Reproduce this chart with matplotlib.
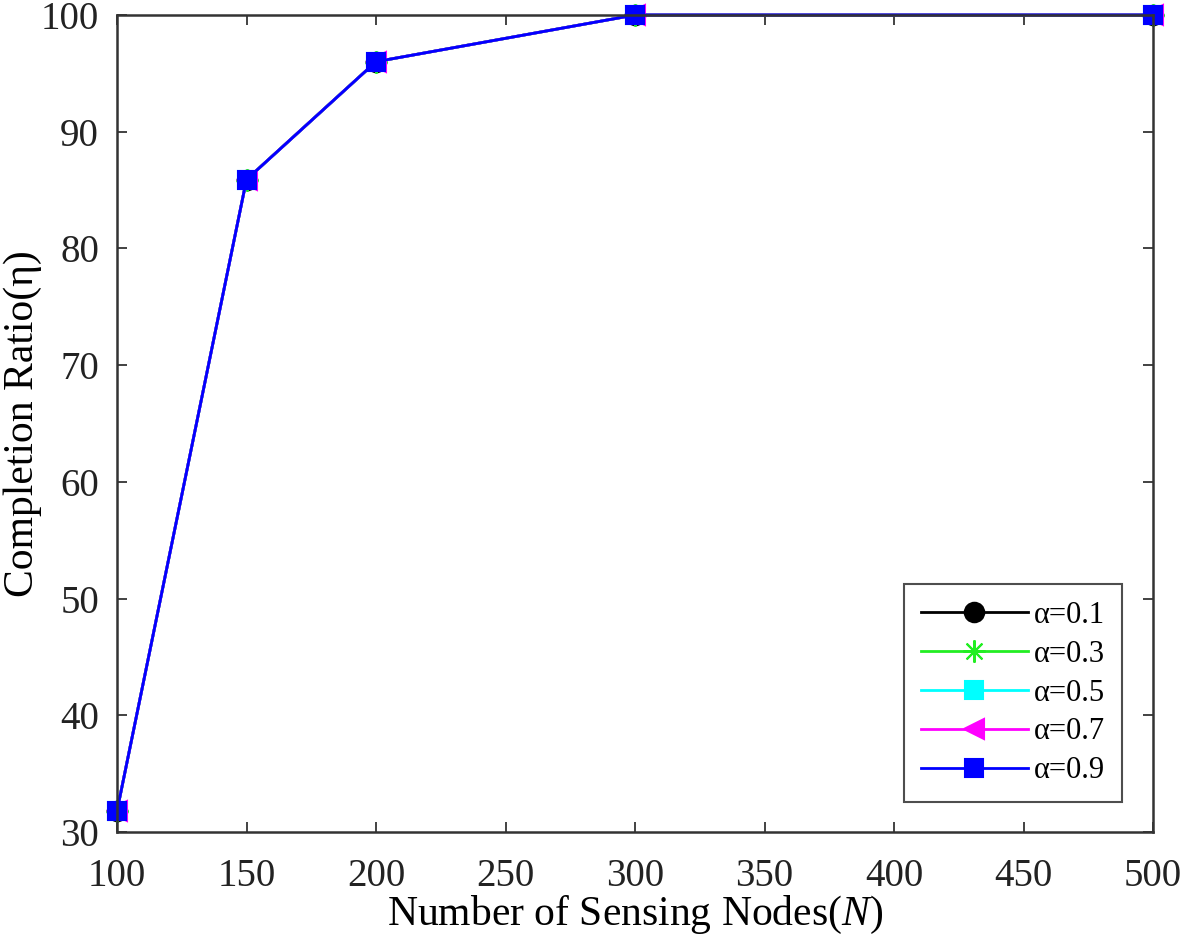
import matplotlib
matplotlib.use("Agg")
import matplotlib.pyplot as plt

nodes = [100, 150, 200, 300, 500]
labels = ["α=0.1", "α=0.3", "α=0.5", "α=0.7", "α=0.9"]
ratio_01 = [31.8, 85.9, 96.0, 100, 100]
ratio_03 = [31.8, 85.9, 96.0, 100, 100]
ratio_05 = [31.8, 85.9, 96.0, 100, 100]
ratio_07 = [31.8, 85.9, 96.0, 100, 100]
ratio_09 = [31.8, 85.9, 96.0, 100, 100]
xticks = [100, 150, 200, 250, 300, 350, 400, 450, 500]
yticks = [30, 40, 50, 60, 70, 80, 90, 100]

plt.rcParams['font.family'] = ['Liberation Serif', 'DejaVu Serif']
plt.rcParams['mathtext.fontset'] = 'custom'
plt.rcParams['mathtext.it'] = 'Liberation Serif:italic'
plt.rcParams['mathtext.rm'] = 'Liberation Serif'

fig = plt.figure(figsize=(11.81, 9.39), dpi=100)
ax = fig.add_axes([117/1181, 1 - 832/939, (1153-117)/1181, (832-15)/939])

styles = [
    (ratio_01, 'black', 'o', 14),
    (ratio_03, '#22ee22', (8, 2, 0), 16),
    (ratio_05, 'cyan', 's', 13),
    (ratio_07, 'magenta', '<', 15),
    (ratio_09, 'blue', 's', 13),
]
for (vals, c, m, ms), lab in zip(styles, labels):
    ax.plot(nodes, vals, color=c, marker=m, markersize=ms, linewidth=2, label=lab,
            markeredgecolor=c, markerfacecolor=c, markeredgewidth=1.5, clip_on=False)

ax.set_xlim(100, 500)
ax.set_ylim(30, 100)
ax.set_xticks(xticks)
ax.set_yticks(yticks)
ax.tick_params(direction='in', which='both', top=True, right=True, labelsize=28,
               length=7, width=1.2, colors='#222222')
ax.tick_params(axis='x', pad=19)
ax.tick_params(axis='y', pad=13)
for s in ax.spines.values():
    s.set_linewidth(1.8)
    s.set_color('#333333')

ax.set_xlabel(r"Number of Sensing Nodes($N$)", fontsize=30, labelpad=-1)
ax.set_ylabel("Completion Ratio(η)", fontsize=30)
ax.yaxis.set_label_coords((42 - 117) / 1036, 0.5)

leg = ax.legend(loc='lower right', fontsize=22, frameon=True, fancybox=False,
                edgecolor='#222222', borderpad=0.55, labelspacing=0.32,
                handlelength=3.5, handletextpad=0.2, borderaxespad=0.0,
                bbox_to_anchor=((1122-117)/1036, (832-802)/817))
leg.get_frame().set_linewidth(1.5)

fig.savefig("out.png", dpi=100)
